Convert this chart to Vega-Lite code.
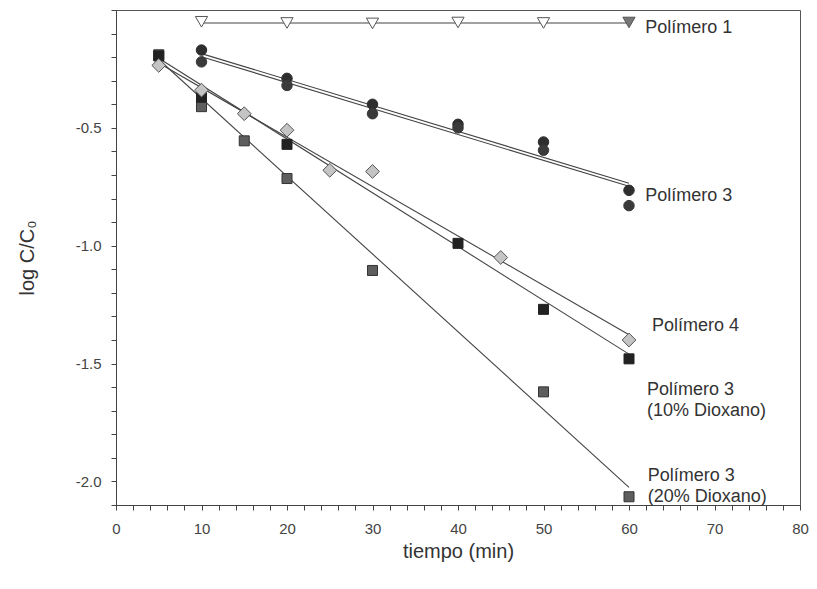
{
  "$schema": "https://vega.github.io/schema/vega-lite/v6.json",
  "width": 684,
  "height": 495,
  "autosize": {"type": "none"},
  "padding": {"left": 116, "top": 10, "right": 17, "bottom": 84},
  "background": "white",
  "config": {
    "view": {"stroke": "#555", "strokeWidth": 1},
    "font": "Liberation Sans",
    "axis": {"labelFont": "Liberation Sans", "titleFont": "Liberation Sans", "labelFontSize": 15, "labelColor": "#444", "titleFontSize": 20, "titleFontWeight": "normal", "titleColor": "#333", "domainColor": "#444", "tickColor": "#444", "grid": false, "ticks": true, "tickSize": 5, "tickWidth": 1}
  },
  "datasets": {
    "fits": [
      {"serie": "P1", "t": 10, "logc": -0.055},
      {"serie": "P1", "t": 60, "logc": -0.055},
      {"serie": "P3a", "t": 10, "logc": -0.185},
      {"serie": "P3a", "t": 60, "logc": -0.735},
      {"serie": "P3b", "t": 10, "logc": -0.198},
      {"serie": "P3b", "t": 60, "logc": -0.748},
      {"serie": "P4", "t": 5, "logc": -0.225},
      {"serie": "P4", "t": 60, "logc": -1.378},
      {"serie": "D10", "t": 5, "logc": -0.205},
      {"serie": "D10", "t": 60, "logc": -1.46},
      {"serie": "D20", "t": 5, "logc": -0.21},
      {"serie": "D20", "t": 60, "logc": -2.025}
    ],
    "points": [
      {"serie": "P1", "t": 10, "logc": -0.05},
      {"serie": "P1", "t": 20, "logc": -0.055},
      {"serie": "P1", "t": 30, "logc": -0.057},
      {"serie": "P1", "t": 40, "logc": -0.053},
      {"serie": "P1", "t": 50, "logc": -0.055},
      {"serie": "P1", "t": 60, "logc": -0.053},
      {"serie": "P3a", "t": 10, "logc": -0.17},
      {"serie": "P3b", "t": 10, "logc": -0.22},
      {"serie": "P3a", "t": 20, "logc": -0.29},
      {"serie": "P3b", "t": 20, "logc": -0.32},
      {"serie": "P3a", "t": 30, "logc": -0.40},
      {"serie": "P3b", "t": 30, "logc": -0.44},
      {"serie": "P3a", "t": 40, "logc": -0.485},
      {"serie": "P3b", "t": 40, "logc": -0.50},
      {"serie": "P3a", "t": 50, "logc": -0.56},
      {"serie": "P3b", "t": 50, "logc": -0.595},
      {"serie": "P3a", "t": 60, "logc": -0.765},
      {"serie": "P3b", "t": 60, "logc": -0.83},
      {"serie": "D20", "t": 5, "logc": -0.19},
      {"serie": "D20", "t": 10, "logc": -0.41},
      {"serie": "D20", "t": 15, "logc": -0.555},
      {"serie": "D20", "t": 20, "logc": -0.715},
      {"serie": "D20", "t": 30, "logc": -1.105},
      {"serie": "D20", "t": 50, "logc": -1.62},
      {"serie": "D20", "t": 60, "logc": -2.065},
      {"serie": "D10", "t": 5, "logc": -0.195},
      {"serie": "D10", "t": 10, "logc": -0.37},
      {"serie": "D10", "t": 20, "logc": -0.57},
      {"serie": "D10", "t": 40, "logc": -0.99},
      {"serie": "D10", "t": 50, "logc": -1.27},
      {"serie": "D10", "t": 60, "logc": -1.48},
      {"serie": "P4", "t": 5, "logc": -0.235},
      {"serie": "P4", "t": 10, "logc": -0.34},
      {"serie": "P4", "t": 15, "logc": -0.44},
      {"serie": "P4", "t": 20, "logc": -0.51},
      {"serie": "P4", "t": 25, "logc": -0.68},
      {"serie": "P4", "t": 30, "logc": -0.685},
      {"serie": "P4", "t": 45, "logc": -1.05},
      {"serie": "P4", "t": 60, "logc": -1.40}
    ],
    "labels": [
      {"label": "Polímero 1", "t": 61.9, "logc": -0.076},
      {"label": "Polímero 3", "t": 61.9, "logc": -0.788},
      {"label": "Polímero 4", "t": 62.7, "logc": -1.339},
      {"label": "Polímero 3\n(10% Dioxano)", "t": 62.1, "logc": -1.614},
      {"label": "Polímero 3\n(20% Dioxano)", "t": 62.2, "logc": -1.979}
    ]
  },
  "encoding": {
    "x": {"field": "t", "type": "quantitative", "scale": {"domain": [0, 80], "nice": false},
      "axis": {"title": "tiempo (min)", "values": [0,2,4,6,8,10,12,14,16,18,20,22,24,26,28,30,32,34,36,38,40,42,44,46,48,50,52,54,56,58,60,62,64,66,68,70,72,74,76,78,80],
        "labelExpr": "datum.value % 10 === 0 ? datum.label : ''",
        "labelPadding": 11, "titlePadding": 5, "labelFlush": false}},
    "y": {"field": "logc", "type": "quantitative", "scale": {"domain": [-2.1, 0], "nice": false, "zero": false},
      "axis": {"title": "log C/C₀", "values": [-2.1,-2.0,-1.9,-1.8,-1.7,-1.6,-1.5,-1.4,-1.3,-1.2,-1.1,-1.0,-0.9,-0.8,-0.7,-0.6,-0.5,-0.4,-0.3,-0.2,-0.1,0],
        "labelExpr": "(abs(round(datum.value*10)) % 5 === 0 && datum.value < -0.1 && datum.value > -2.05) ? replace(format(datum.value, '.1f'), '−', '-') : ''",
        "labelPadding": 10, "titlePadding": 38, "labelFlush": false}}
  },
  "layer": [
    {
      "data": {"name": "fits"},
      "mark": {"type": "line", "color": "#444", "strokeWidth": 1.1},
      "encoding": {"detail": {"field": "serie", "type": "nominal"}}
    },
    {
      "data": {"name": "points"},
      "mark": {"type": "point", "filled": false, "strokeWidth": 1, "opacity": 1},
      "encoding": {
        "shape": {"field": "serie", "type": "nominal", "legend": null,
          "scale": {"domain": ["P1", "P3a", "P3b", "P4", "D10", "D20"], "range": ["triangle-down", "circle", "circle", "diamond", "square", "square"]}},
        "fill": {"condition": {"test": "datum.serie === 'P1' && datum.t === 60", "value": "#777"},
          "field": "serie", "type": "nominal", "legend": null,
          "scale": {"domain": ["P1", "P3a", "P3b", "P4", "D10", "D20"], "range": ["#ffffff", "#2e2e2e", "#3a3a3a", "#c4c4c4", "#222222", "#5e5e5e"]}},
        "stroke": {"field": "serie", "type": "nominal", "legend": null,
          "scale": {"domain": ["P1", "P3a", "P3b", "P4", "D10", "D20"], "range": ["#555555", "#2e2e2e", "#3a3a3a", "#555555", "#222222", "#333333"]}},
        "size": {"field": "serie", "type": "nominal", "legend": null,
          "scale": {"type": "ordinal", "domain": ["P1", "P3a", "P3b", "P4", "D10", "D20"], "range": [150, 110, 110, 190, 100, 100]}}
      }
    },
    {
      "data": {"name": "labels"},
      "mark": {"type": "text", "align": "left", "baseline": "middle", "font": "Liberation Sans", "fontSize": 18, "color": "#333", "lineBreak": "\n", "lineHeight": 21},
      "encoding": {"text": {"field": "label", "type": "nominal"}}
    }
  ]
}
